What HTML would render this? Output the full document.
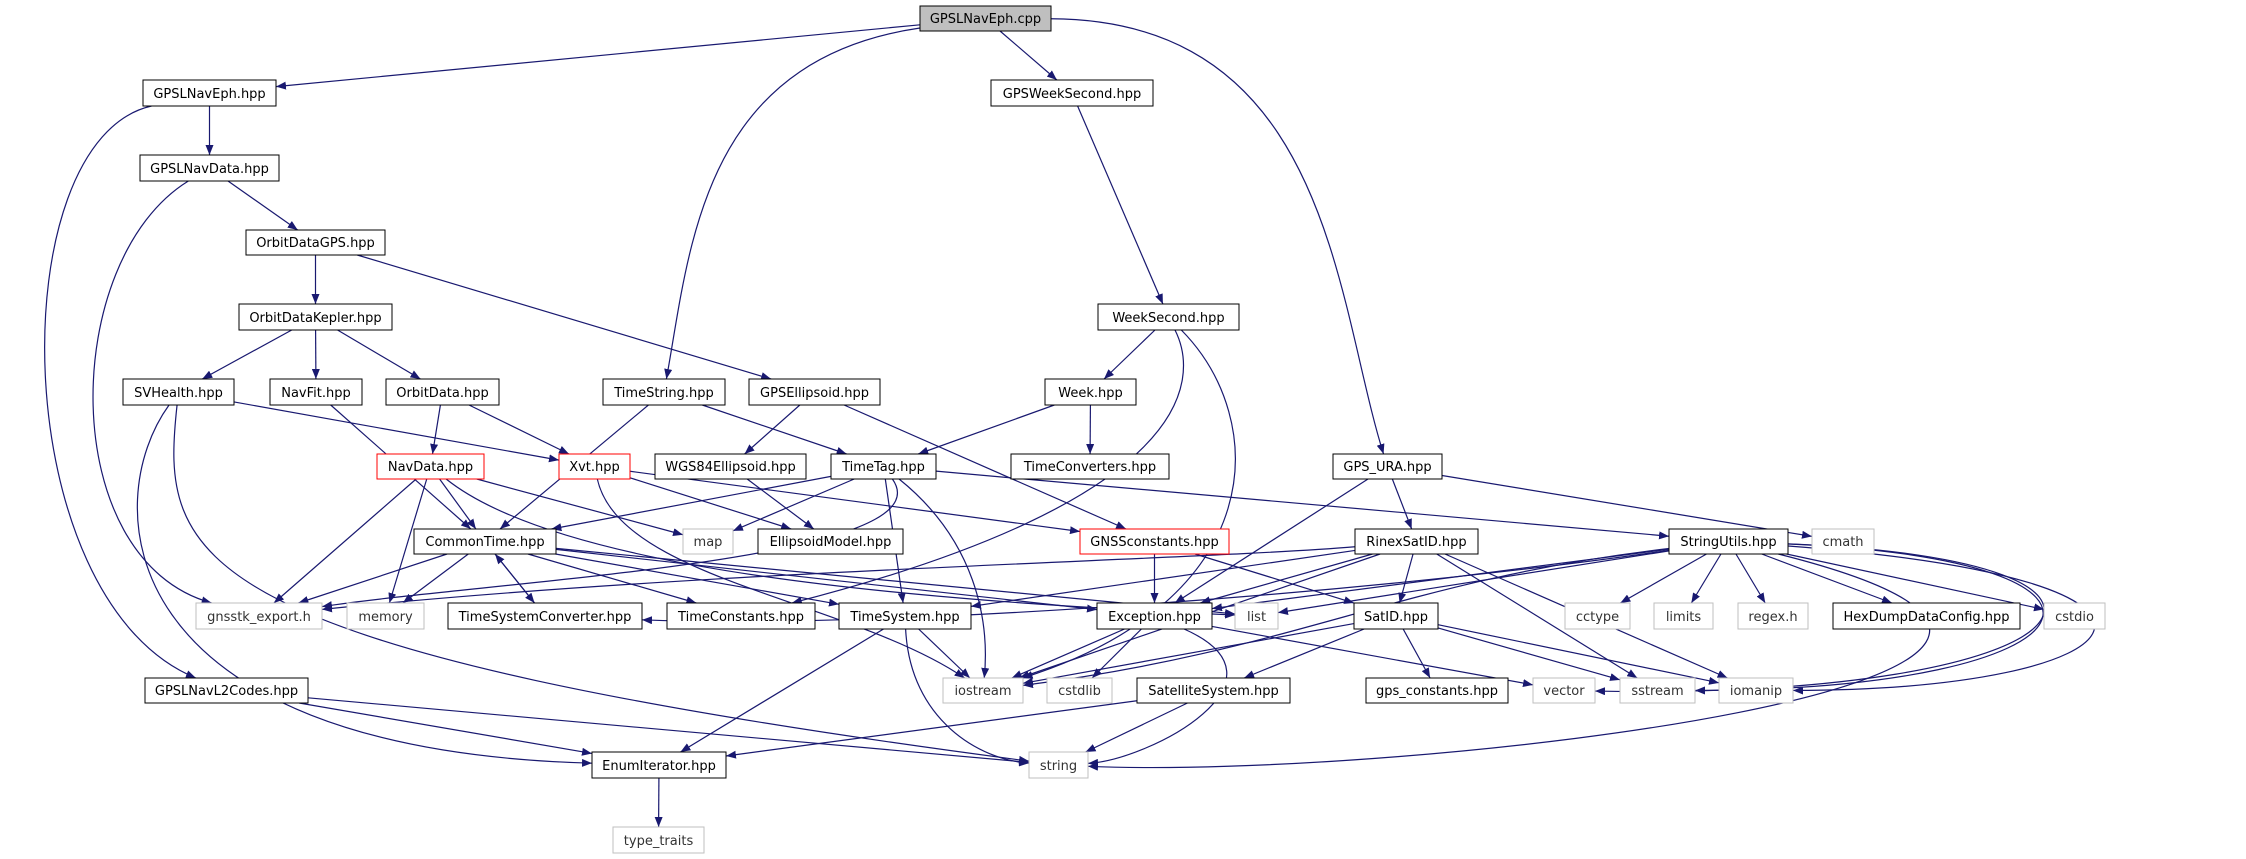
<!DOCTYPE html>
<html><head><meta charset="utf-8"><style>
html,body{margin:0;padding:0;background:#fff;}
svg{display:block;}
text{font-family:"DejaVu Sans","Liberation Sans",sans-serif;font-size:13px;}
</style></head><body>
<svg id="g" width="2246" height="859" viewBox="0 0 2246 859" xmlns="http://www.w3.org/2000/svg">
<defs><marker id="a" viewBox="0 0 10 8" refX="10" refY="4" markerWidth="10" markerHeight="8" markerUnits="userSpaceOnUse" orient="auto"><path d="M0,0 L10,4 L0,8 z" fill="#191970"/></marker></defs>
<g id="edges" fill="none" stroke="#191970" stroke-width="1.2"></g>
<g id="nodes">
<rect x="920" y="6" width="131" height="25" fill="#bfbfbf" stroke="#000"/><text x="985.5" y="23" text-anchor="middle">GPSLNavEph.cpp</text>
<rect x="143" y="80" width="133" height="26" fill="#fff" stroke="#000"/><text x="209.5" y="98" text-anchor="middle">GPSLNavEph.hpp</text>
<rect x="991" y="80" width="162" height="26" fill="#fff" stroke="#000"/><text x="1072" y="98" text-anchor="middle">GPSWeekSecond.hpp</text>
<rect x="140" y="155" width="139" height="26" fill="#fff" stroke="#000"/><text x="209.5" y="173" text-anchor="middle">GPSLNavData.hpp</text>
<rect x="246" y="230" width="139" height="25" fill="#fff" stroke="#000"/><text x="315.5" y="247" text-anchor="middle">OrbitDataGPS.hpp</text>
<rect x="239" y="304" width="153" height="26" fill="#fff" stroke="#000"/><text x="315.5" y="322" text-anchor="middle">OrbitDataKepler.hpp</text>
<rect x="1098" y="304" width="141" height="26" fill="#fff" stroke="#000"/><text x="1168.5" y="322" text-anchor="middle">WeekSecond.hpp</text>
<rect x="123" y="379" width="111" height="26" fill="#fff" stroke="#000"/><text x="178.5" y="397" text-anchor="middle">SVHealth.hpp</text>
<rect x="270" y="379" width="92" height="26" fill="#fff" stroke="#000"/><text x="316" y="397" text-anchor="middle">NavFit.hpp</text>
<rect x="386" y="379" width="113" height="26" fill="#fff" stroke="#000"/><text x="442.5" y="397" text-anchor="middle">OrbitData.hpp</text>
<rect x="603" y="379" width="122" height="26" fill="#fff" stroke="#000"/><text x="664" y="397" text-anchor="middle">TimeString.hpp</text>
<rect x="749" y="379" width="131" height="26" fill="#fff" stroke="#000"/><text x="814.5" y="397" text-anchor="middle">GPSEllipsoid.hpp</text>
<rect x="1045" y="379" width="91" height="26" fill="#fff" stroke="#000"/><text x="1090.5" y="397" text-anchor="middle">Week.hpp</text>
<rect x="377" y="454" width="107" height="25" fill="#fff" stroke="#f00"/><text x="430.5" y="471" text-anchor="middle">NavData.hpp</text>
<rect x="559" y="454" width="71" height="25" fill="#fff" stroke="#f00"/><text x="594.5" y="471" text-anchor="middle">Xvt.hpp</text>
<rect x="655" y="454" width="151" height="25" fill="#fff" stroke="#000"/><text x="730.5" y="471" text-anchor="middle">WGS84Ellipsoid.hpp</text>
<rect x="831" y="454" width="105" height="25" fill="#fff" stroke="#000"/><text x="883.5" y="471" text-anchor="middle">TimeTag.hpp</text>
<rect x="1011" y="454" width="158" height="25" fill="#fff" stroke="#000"/><text x="1090" y="471" text-anchor="middle">TimeConverters.hpp</text>
<rect x="1333" y="454" width="109" height="25" fill="#fff" stroke="#000"/><text x="1387.5" y="471" text-anchor="middle">GPS_URA.hpp</text>
<rect x="414" y="529" width="142" height="25" fill="#fff" stroke="#000"/><text x="485" y="546" text-anchor="middle">CommonTime.hpp</text>
<rect x="683" y="529" width="50" height="25" fill="#fff" stroke="#bfbfbf"/><text x="708" y="546" text-anchor="middle" fill="#333">map</text>
<rect x="758" y="529" width="145" height="25" fill="#fff" stroke="#000"/><text x="830.5" y="546" text-anchor="middle">EllipsoidModel.hpp</text>
<rect x="1080" y="529" width="149" height="25" fill="#fff" stroke="#f00"/><text x="1154.5" y="546" text-anchor="middle">GNSSconstants.hpp</text>
<rect x="1355" y="529" width="123" height="25" fill="#fff" stroke="#000"/><text x="1416.5" y="546" text-anchor="middle">RinexSatID.hpp</text>
<rect x="1669" y="529" width="119" height="25" fill="#fff" stroke="#000"/><text x="1728.5" y="546" text-anchor="middle">StringUtils.hpp</text>
<rect x="1812" y="529" width="62" height="25" fill="#fff" stroke="#bfbfbf"/><text x="1843" y="546" text-anchor="middle" fill="#333">cmath</text>
<rect x="196" y="603" width="126" height="26" fill="#fff" stroke="#bfbfbf"/><text x="259" y="621" text-anchor="middle" fill="#333">gnsstk_export.h</text>
<rect x="347" y="603" width="77" height="26" fill="#fff" stroke="#bfbfbf"/><text x="385.5" y="621" text-anchor="middle" fill="#333">memory</text>
<rect x="448" y="603" width="194" height="26" fill="#fff" stroke="#000"/><text x="545" y="621" text-anchor="middle">TimeSystemConverter.hpp</text>
<rect x="667" y="603" width="148" height="26" fill="#fff" stroke="#000"/><text x="741" y="621" text-anchor="middle">TimeConstants.hpp</text>
<rect x="839" y="603" width="132" height="26" fill="#fff" stroke="#000"/><text x="905" y="621" text-anchor="middle">TimeSystem.hpp</text>
<rect x="1097" y="603" width="115" height="26" fill="#fff" stroke="#000"/><text x="1154.5" y="621" text-anchor="middle">Exception.hpp</text>
<rect x="1235" y="603" width="43" height="26" fill="#fff" stroke="#bfbfbf"/><text x="1256.5" y="621" text-anchor="middle" fill="#333">list</text>
<rect x="1354" y="603" width="84" height="26" fill="#fff" stroke="#000"/><text x="1396" y="621" text-anchor="middle">SatID.hpp</text>
<rect x="1565" y="603" width="65" height="26" fill="#fff" stroke="#bfbfbf"/><text x="1597.5" y="621" text-anchor="middle" fill="#333">cctype</text>
<rect x="1654" y="603" width="59" height="26" fill="#fff" stroke="#bfbfbf"/><text x="1683.5" y="621" text-anchor="middle" fill="#333">limits</text>
<rect x="1738" y="603" width="70" height="26" fill="#fff" stroke="#bfbfbf"/><text x="1773" y="621" text-anchor="middle" fill="#333">regex.h</text>
<rect x="1833" y="603" width="187" height="26" fill="#fff" stroke="#000"/><text x="1926.5" y="621" text-anchor="middle">HexDumpDataConfig.hpp</text>
<rect x="2044" y="603" width="61" height="26" fill="#fff" stroke="#bfbfbf"/><text x="2074.5" y="621" text-anchor="middle" fill="#333">cstdio</text>
<rect x="145" y="678" width="163" height="25" fill="#fff" stroke="#000"/><text x="226.5" y="695" text-anchor="middle">GPSLNavL2Codes.hpp</text>
<rect x="943" y="678" width="80" height="25" fill="#fff" stroke="#bfbfbf"/><text x="983" y="695" text-anchor="middle" fill="#333">iostream</text>
<rect x="1047" y="678" width="65" height="25" fill="#fff" stroke="#bfbfbf"/><text x="1079.5" y="695" text-anchor="middle" fill="#333">cstdlib</text>
<rect x="1137" y="678" width="153" height="25" fill="#fff" stroke="#000"/><text x="1213.5" y="695" text-anchor="middle">SatelliteSystem.hpp</text>
<rect x="1366" y="678" width="142" height="25" fill="#fff" stroke="#000"/><text x="1437" y="695" text-anchor="middle">gps_constants.hpp</text>
<rect x="1533" y="678" width="62" height="25" fill="#fff" stroke="#bfbfbf"/><text x="1564" y="695" text-anchor="middle" fill="#333">vector</text>
<rect x="1620" y="678" width="75" height="25" fill="#fff" stroke="#bfbfbf"/><text x="1657.5" y="695" text-anchor="middle" fill="#333">sstream</text>
<rect x="1719" y="678" width="74" height="25" fill="#fff" stroke="#bfbfbf"/><text x="1756" y="695" text-anchor="middle" fill="#333">iomanip</text>
<rect x="592" y="752" width="134" height="26" fill="#fff" stroke="#000"/><text x="659" y="770" text-anchor="middle">EnumIterator.hpp</text>
<rect x="1029" y="752" width="59" height="26" fill="#fff" stroke="#bfbfbf"/><text x="1058.5" y="770" text-anchor="middle" fill="#333">string</text>
<rect x="613" y="827" width="91" height="26" fill="#fff" stroke="#bfbfbf"/><text x="658.5" y="845" text-anchor="middle" fill="#333">type_traits</text>
</g>
</svg>
<script>
var N={cpp:[920,6,131,25],eph:[143,80,133,26],gws:[991,80,162,26],nd:[140,155,139,26],odg:[246,230,139,25],odk:[239,304,153,26],ws:[1098,304,141,26],svh:[123,379,111,26],nf:[270,379,92,26],od:[386,379,113,26],ts:[603,379,122,26],ge:[749,379,131,26],wk:[1045,379,91,26],nav:[377,454,107,25],xvt:[559,454,71,25],wgs:[655,454,151,25],tt:[831,454,105,25],tc:[1011,454,158,25],ura:[1333,454,109,25],ct:[414,529,142,25],map:[683,529,50,25],em:[758,529,145,25],gc:[1080,529,149,25],rs:[1355,529,123,25],su:[1669,529,119,25],cm:[1812,529,62,25],ge_:[196,603,126,26],mem:[347,603,77,26],tsc:[448,603,194,26],tcn:[667,603,148,26],tsy:[839,603,132,26],ex:[1097,603,115,26],li:[1235,603,43,26],sat:[1354,603,84,26],cc:[1565,603,65,26],lim:[1654,603,59,26],rx:[1738,603,70,26],hd:[1833,603,187,26],cs:[2044,603,61,26],l2:[145,678,163,25],io:[943,678,80,25],cl:[1047,678,65,25],ss:[1137,678,153,25],gpc:[1366,678,142,25],vec:[1533,678,62,25],sst:[1620,678,75,25],iom:[1719,678,74,25],en:[592,752,134,26],str:[1029,752,59,26],tr:[613,827,91,26]};
var E=[
["cpp","eph"],["cpp","ts",[[700,60],[690,250]]],["cpp","gws"],["cpp","ura",[[1330,20],[1335,300]]],
["eph","nd"],["eph","l2",[[0,140],[5,600]]],["nd","odg"],["nd","ge_",[[60,260],[55,560]]],
["odg","odk"],["odg","ge"],["odk","svh"],["odk","nf"],["odk","od"],
["svh","xvt"],["svh","en",[[100,500],[105,750]]],["svh","str",[[160,560],[180,650]]],
["nf","ct"],["od","nav"],["od","xvt"],["ts","ct"],["ts","tt"],["ge","wgs"],["ge","gc"],
["gws","ws"],["ws","wk"],["ws","tcn",[[1200,380],[1195,500]]],["ws","io",[[1270,420],[1270,600]]],
["wk","tt"],["wk","tc"],
["nav","ct"],["nav","ge_"],["nav","mem"],["nav","map"],["nav","li",[[560,570],[900,600]]],
["xvt","em"],["xvt","gc"],["xvt","io",[[620,580],[850,600]]],["wgs","em"],
["tt","ct"],["tt","map"],["tt","tsy"],["tt","ge_",[[950,560],[500,580]]],["tt","io",[[975,540],[990,620]]],["tt","su"],
["ura","cm"],["ura","rs"],["ura","ex"],
["ct","ge_"],["ct","mem"],["ct","tsc"],["ct","tcn"],["ct","tsy"],["ct","ex"],["ct","li"],["tsc","ct"],
["gc","ex"],["gc","sat"],
["rs","sat"],["rs","tsy"],["rs","ge_",[[1200,560],[700,570]]],["rs","ex"],["rs","sst"],["rs","iom"],["rs","io"],
["su","cc"],["su","lim"],["su","rx"],["su","hd"],["su","cs"],["su","ex"],["su","li"],["su","io",[[1400,580],[1300,650]]],["su","tsc",[[1400,590],[900,630]]],
["su","sst",[[2170,560],[2110,690]]],["su","iom",[[2240,580],[2150,690]]],["su","str",[[2280,680],[1400,780]]],["su","vec",[[2200,560],[2100,700]]],
["ex","io"],["ex","cl"],["ex","vec"],["ex","str",[[1300,680],[1150,760]]],
["tsy","io"],["tsy","en"],["tsy","str",[[910,720],[980,760]]],
["sat","ss"],["sat","gpc"],["sat","sst"],["sat","iom"],["sat","io"],
["ss","en"],["ss","str"],["l2","en"],["l2","str"],["en","tr"]];
function clip(b,px,py){var cx=b[0]+b[2]/2,cy=b[1]+b[3]/2,dx=px-cx,dy=py-cy;if(!dx&&!dy)return[cx,cy];var tx=dx?(b[2]/2)/Math.abs(dx):1e9,ty=dy?(b[3]/2)/Math.abs(dy):1e9,t=Math.min(tx,ty);return[cx+dx*t,cy+dy*t];}
var g=document.getElementById("edges"),s="";
E.forEach(function(e){var a=N[e[0]],b=N[e[1]],ac=[a[0]+a[2]/2,a[1]+a[3]/2],bc=[b[0]+b[2]/2,b[1]+b[3]/2];var d;
if(e[2]){var c1=e[2][0],c2=e[2][1];var p=clip(a,c1[0],c1[1]),q=clip(b,c2[0],c2[1]);d="M"+p+" C"+c1+" "+c2+" "+q;}
else{var p=clip(a,bc[0],bc[1]),q=clip(b,ac[0],ac[1]);d="M"+p+" L"+q;}
s+='<path d="'+d+'" marker-end="url(#a)"/>';});
g.innerHTML=s;
</script>
</body></html>
